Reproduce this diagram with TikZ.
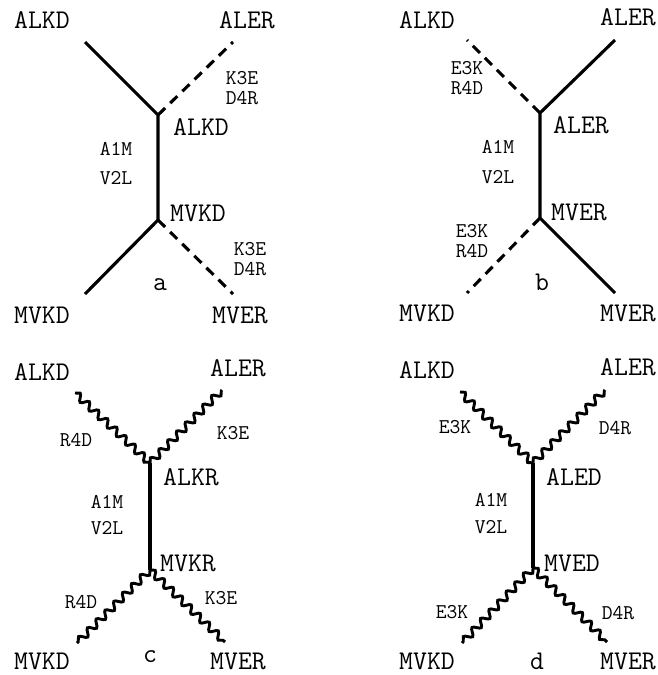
\documentclass[tikz,border=0pt]{standalone}
\usepackage{fontspec}
\usepackage{tikz}
\usetikzlibrary{decorations.pathmorphing}
\usepackage{xcolor}
\definecolor{ink}{HTML}{000000}

\begin{document}
\begin{tikzpicture}[x=1pt,y=-1pt,
    big/.style={ink, inner sep=0pt, font=\ttfamily\fontsize{27}{27}\selectfont},
    small/.style={ink, inner sep=0pt, align=center,
      font=\ttfamily\fontsize{21}{19.5}\selectfont},
    tag/.style={ink, inner sep=0pt, anchor=base, font=\ttfamily\fontsize{27}{27}\selectfont},
    foot/.style={big, anchor=base},
    stem/.style={ink, line width=3.1pt},
    dashleg/.style={ink, line width=3.1pt, dash pattern=on 10pt off 7pt},
    wavy/.style={ink, line width=2.9pt, decorate,
      decoration={snake, amplitude=3.4pt, segment length=12.5pt}}]
        \useasboundingbox (0,0) rectangle (657,675);

        % panel a
        \coordinate (aU) at (158,115);
        \coordinate (aD) at (158,220);
        \coordinate (aTL) at (85,42);
        \coordinate (aTR) at (233,42);
        \coordinate (aBL) at (85,294);
        \coordinate (aBR) at (233,294);
        \draw[stem] (aTL) -- (aU) -- (aD) -- (aBL);
        \draw[dashleg] (aU) -- (aTR);
        \draw[dashleg] (aD) -- (aBR);
        \node[big] (aTLn) at (42,20) {ALKD};
        \node[big] (aTRn) at (247,20) {ALER};
        \node[small] (aMutT) at (242,88) {K3E\\D4R};
        \node[big] (aUn) at (201,127) {ALKD};
        \node[small] (aSt1) at (116,149) {A1M};
        \node[small] (aSt2) at (116,178) {V2L};
        \node[big] (aDn) at (198,213) {MVKD};
        \node[small] (aMutB) at (250,259) {K3E\\D4R};
        \node[tag] (aTag) at (160,290) {a};
        \node[big] (aBLn) at (42,315) {MVKD};
        \node[big] (aBRn) at (240,315) {MVER};

        % panel b
        \coordinate (bU) at (540,113);
        \coordinate (bD) at (540,218);
        \coordinate (bTL) at (467,40);
        \coordinate (bTR) at (615,40);
        \coordinate (bBL) at (467,293);
        \coordinate (bBR) at (615,293);
        \draw[stem] (bTR) -- (bU) -- (bD) -- (bBR);
        \draw[dashleg] (bU) -- (bTL);
        \draw[dashleg] (bD) -- (bBL);
        \node[big] (bTLn) at (427,20) {ALKD};
        \node[big] (bTRn) at (628,17) {ALER};
        \node[small] (bMutT) at (467,78) {E3K\\R4D};
        \node[big] (bUn) at (581,125) {ALER};
        \node[small] (bSt1) at (498,147) {A1M};
        \node[small] (bSt2) at (498,177) {V2L};
        \node[big] (bDn) at (579,212) {MVER};
        \node[small] (bMutB) at (472,241) {E3K\\R4D};
        \node[tag] (bTag) at (542,290) {b};
        \node[big] (bBLn) at (427,313) {MVKD};
        \node[big] (bBRn) at (628,313) {MVER};

        % panel c
        \coordinate (cU) at (150,463);
        \coordinate (cD) at (150,570);
        \coordinate (cTL) at (75,393);
        \coordinate (cTR) at (222,390);
        \coordinate (cBL) at (77,643);
        \coordinate (cBR) at (225,642);
        \draw[stem] (cU) -- (cD);
        \draw[wavy] (cTL) -- (cU);
        \draw[wavy] (cU) -- (cTR);
        \draw[wavy] (cD) -- (cBL);
        \draw[wavy] (cD) -- (cBR);
        \node[big] (cTLn) at (42,372) {ALKD};
        \node[big] (cTRn) at (238,368) {ALER};
        \node[small] (cMut1) at (76,440) {R4D};
        \node[small] (cMut2) at (233,433) {K3E};
        \node[big] (cUn) at (191,477) {ALKR};
        \node[small] (cSt1) at (107,502) {A1M};
        \node[small] (cSt2) at (107,528) {V2L};
        \node[big] (cDn) at (188,563) {MVKR};
        \node[small] (cMut3) at (81,602) {R4D};
        \node[small] (cMut4) at (221,598) {K3E};
        \node[tag] (cTag) at (150,662) {c};
        \node[foot] (cBLn) at (42,669) {MVKD};
        \node[foot] (cBRn) at (238,669) {MVER};

        % panel d
        \coordinate (dU) at (533,463);
        \coordinate (dD) at (533,568);
        \coordinate (dTL) at (460,392);
        \coordinate (dTR) at (605,390);
        \coordinate (dBL) at (462,643);
        \coordinate (dBR) at (607,642);
        \draw[stem] (dU) -- (dD);
        \draw[wavy] (dTL) -- (dU);
        \draw[wavy] (dU) -- (dTR);
        \draw[wavy] (dD) -- (dBL);
        \draw[wavy] (dD) -- (dBR);
        \node[big] (dTLn) at (427,370) {ALKD};
        \node[big] (dTRn) at (628,367) {ALER};
        \node[small] (dMut1) at (455,427) {E3K};
        \node[small] (dMut2) at (615,428) {D4R};
        \node[big] (dUn) at (574,477) {ALED};
        \node[small] (dSt1) at (491,500) {A1M};
        \node[small] (dSt2) at (491,527) {V2L};
        \node[big] (dDn) at (572,563) {MVED};
        \node[small] (dMut3) at (452,612) {E3K};
        \node[small] (dMut4) at (618,613) {D4R};
        \node[tag] (dTag) at (537,669) {d};
        \node[foot] (dBLn) at (427,669) {MVKD};
        \node[foot] (dBRn) at (628,669) {MVER};
      \end{tikzpicture}
\end{document}
